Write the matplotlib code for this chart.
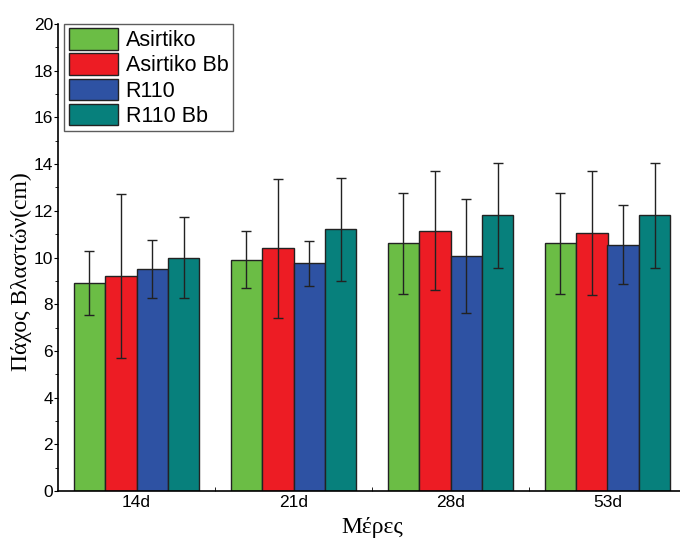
import matplotlib
matplotlib.use("Agg")
import matplotlib.pyplot as plt
import numpy as np
from matplotlib.ticker import MultipleLocator, FixedLocator

categories = ["14d", "21d", "28d", "53d"]
series_names = ["Asirtiko", "Asirtiko Bb", "R110", "R110 Bb"]
asirtiko = [8.9, 9.9, 10.6, 10.6]
asirtiko_bb = [9.2, 10.4, 11.15, 11.05]
r110 = [9.5, 9.75, 10.05, 10.55]
r110_bb = [10.0, 11.2, 11.8, 11.8]
err_asirtiko = [1.38, 1.22, 2.17, 2.17]
err_asirtiko_bb = [3.5, 2.97, 2.55, 2.65]
err_r110 = [1.25, 0.96, 2.44, 1.68]
err_r110_bb = [1.73, 2.21, 2.24, 2.24]

values = [asirtiko, asirtiko_bb, r110, r110_bb]
errors = [err_asirtiko, err_asirtiko_bb, err_r110, err_r110_bb]
colors = ["#6BBD45", "#ED1C24", "#2E52A3", "#07807C"]

plt.rcParams['font.family'] = ['Liberation Sans', 'DejaVu Sans']

fig = plt.figure(figsize=(6.8, 5.41), dpi=100)
ax = fig.add_axes([58/680, 1-491/541, 628/680, 467/541])

x = np.arange(1, len(categories) + 1)
w = 0.2
for i, (vals, errs, c, name) in enumerate(zip(values, errors, colors, series_names)):
    pos = x + (i - 1.5) * w
    ax.bar(pos, vals, width=w, color=c, edgecolor="#222222", linewidth=1.0,
           label=name, zorder=2)
    ax.errorbar(pos, vals, yerr=errs, fmt="none", ecolor="#222222",
                elinewidth=1.0, capsize=3.5, capthick=1.0, zorder=3)

ax.set_xlim(0.5, 4.5)
ax.set_ylim(0, 20)
ax.set_xticks(x)
ax.set_xticklabels(categories)
ax.xaxis.set_minor_locator(FixedLocator([1.5, 2.5, 3.5]))
ax.yaxis.set_major_locator(MultipleLocator(2))
ax.yaxis.set_minor_locator(MultipleLocator(1))
ax.tick_params(axis="x", which="major", length=0, labelsize=12.5, pad=3)
ax.tick_params(axis="x", which="minor", length=3, direction="in")
ax.tick_params(axis="y", which="major", length=3, direction="out", labelsize=12.5, pad=0.5)
ax.tick_params(axis="y", which="minor", length=2, direction="out")

for s in ["top", "right"]:
    ax.spines[s].set_visible(False)
for s in ["left", "bottom"]:
    ax.spines[s].set_linewidth(1.2)

ax.set_ylabel("Πάχος Βλαστών(cm)", family=["Liberation Serif", "DejaVu Serif"],
              fontsize=17)
ax.yaxis.set_label_coords(-0.041, (491-272)/467)
ax.set_xlabel("Μέρες", family=["Liberation Serif", "DejaVu Serif"], fontsize=17)
ax.xaxis.set_label_coords((372-58)/628, -0.055)

leg = ax.legend(loc="upper left", bbox_to_anchor=(0.01, 1.0), borderaxespad=0,
                fancybox=False, edgecolor="#333333", fontsize=15.5,
                handlelength=2.3, handleheight=1.15, labelspacing=0.1,
                handletextpad=0.35, borderpad=0.2)
leg.get_frame().set_linewidth(1.0)

fig.savefig("out.png", dpi=100)
